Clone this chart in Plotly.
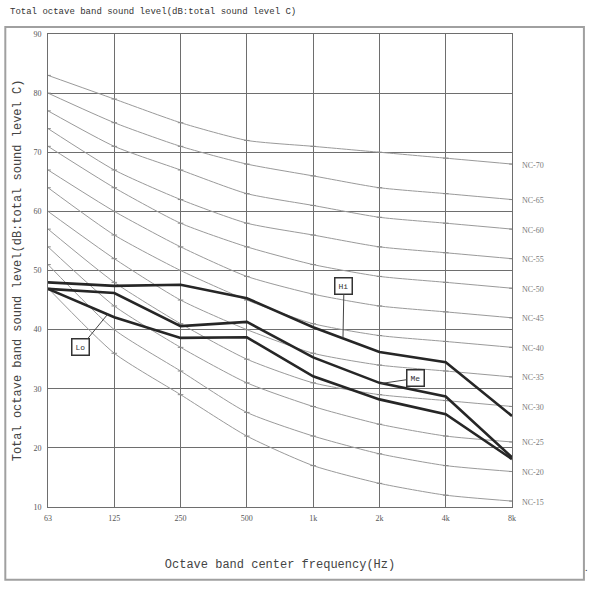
import plotly.graph_objects as go

FREQ_LABELS = ["63", "125", "250", "500", "1k", "2k", "4k", "8k"]
NC_NAMES = ["NC-15", "NC-20", "NC-25", "NC-30", "NC-35", "NC-40",
            "NC-45", "NC-50", "NC-55", "NC-60", "NC-65", "NC-70"]
NC_VALUES = [
    [47, 36, 29, 22, 17, 14, 12, 11],
    [51, 40, 33, 26, 22, 19, 17, 16],
    [54, 44, 37, 31, 27, 24, 22, 21],
    [57, 48, 41, 35, 31, 29, 28, 27],
    [60, 52, 45, 40, 36, 34, 33, 32],
    [64, 56, 50, 45, 41, 39, 38, 37],
    [67, 60, 54, 49, 46, 44, 43, 42],
    [71, 64, 58, 54, 51, 49, 48, 47],
    [74, 67, 62, 58, 56, 54, 53, 52],
    [77, 71, 67, 63, 61, 59, 58, 57],
    [80, 75, 71, 68, 66, 64, 63, 62],
    [83, 79, 75, 72, 71, 70, 69, 68],
]
HI_LEVELS = [48.0, 47.4, 47.6, 45.3, 40.4, 36.2, 34.5, 25.4]
ME_LEVELS = [46.9, 46.2, 40.6, 41.3, 35.3, 31.0, 28.7, 18.4]
LO_LEVELS = [46.9, 42.1, 38.6, 38.7, 32.1, 28.2, 25.7, 18.1]
Y_TICKS = [10, 20, 30, 40, 50, 60, 70, 80, 90]

NC_COLOR = "#9a9a9a"
GRID_COLOR = "#6e6e6e"
LINE_COLOR = "#262626"
TEXT_COLOR = "#555555"
MONO = "Liberation Mono"
SERIF = "Liberation Serif"

x_pos = list(range(len(FREQ_LABELS)))

fig = go.Figure()

for name, values in zip(NC_NAMES, NC_VALUES):
    fig.add_trace(
        go.Scatter(
            x=x_pos,
            y=values,
            name=name,
            mode="lines+markers",
            line=dict(color=NC_COLOR, width=1, shape="spline", smoothing=0.6),
            marker=dict(symbol="line-ew", size=4, line=dict(color="#8a8a8a", width=1)),
            showlegend=False,
            hoverinfo="skip",
        )
    )

for name, values in [("Hi", HI_LEVELS), ("Me", ME_LEVELS), ("Lo", LO_LEVELS)]:
    fig.add_trace(
        go.Scatter(
            x=x_pos,
            y=values,
            name=name,
            mode="lines",
            line=dict(color=LINE_COLOR, width=2.6),
            showlegend=False,
        )
    )

# NC labels on the right side, at the 8k value of each curve
for name, values in zip(NC_NAMES, NC_VALUES):
    fig.add_annotation(
        x=x_pos[-1], y=values[-1], text=name, showarrow=False,
        xanchor="left", xshift=8, yshift=-1,
        font=dict(family=SERIF, size=8, color="#7a7a7a"),
    )

# labelled boxes with leader lines
box_labels = [
    ("Hi", 4.45, 38.6, 1, -52),
    ("Me", 5.03, 30.9, 34, -5),
    ("Lo", 0.9, 42.6, -27, 33),
]
for text, x, y, ax, ay in box_labels:
    fig.add_annotation(
        x=x, y=y, text=text, showarrow=True, arrowhead=0,
        arrowwidth=1, arrowcolor="#444444", ax=ax, ay=ay,
        bordercolor="#333333", borderwidth=1.5, borderpad=3,
        bgcolor="white",
        font=dict(family=MONO, size=8, color="#333333"),
    )

# page title
fig.add_annotation(
    xref="paper", yref="paper", x=-0.087, y=1.0465,
    text="Total octave band sound level(dB:total sound level C)",
    showarrow=False, xanchor="left", yanchor="middle",
    font=dict(family=MONO, size=9, color="#333333"),
)
fig.add_annotation(
    xref="paper", yref="paper", x=1.16, y=-0.144,
    text=".", showarrow=False, xanchor="center",
    font=dict(size=10, color="#333333"),
)

# outer frame
fig.add_shape(
    type="rect", xref="paper", yref="paper",
    x0=-0.092, x1=1.155, y0=-0.154, y1=1.015,
    line=dict(color="#a0a0a0", width=2),
)

fig.update_layout(
    width=590,
    height=599,
    margin=dict(l=48, r=78, t=34, b=92),
    paper_bgcolor="white",
    plot_bgcolor="white",
    font=dict(family=SERIF, color=TEXT_COLOR),
)
fig.update_xaxes(
    range=[0, 7],
    tickvals=x_pos,
    ticktext=FREQ_LABELS,
    showgrid=True,
    gridcolor=GRID_COLOR,
    gridwidth=1,
    showline=True,
    linecolor=GRID_COLOR,
    mirror=True,
    zeroline=False,
    automargin=False,
    ticklabelstandoff=3,
    tickfont=dict(family=SERIF, size=8, color=TEXT_COLOR),
    title=dict(
        text="Octave band center frequency(Hz)",
        font=dict(family=MONO, size=12, color="#444444"),
        standoff=38,
    ),
)
fig.update_yaxes(
    range=[10, 90],
    tickvals=Y_TICKS,
    showgrid=True,
    gridcolor=GRID_COLOR,
    gridwidth=1,
    showline=True,
    linecolor=GRID_COLOR,
    mirror=True,
    zeroline=False,
    automargin=False,
    ticks="",
    ticklabelstandoff=4,
    tickfont=dict(family=SERIF, size=8, color=TEXT_COLOR),
    title=dict(
        text="Total octave band sound level(dB:total sound level C)",
        font=dict(family=MONO, size=12, color="#444444"),
        standoff=9,
    ),
)

# the page body has a default 8px margin; drop it so the figure sits at 0,0
fig.write_html(
    "out.html",
    config={"displayModeBar": False},
    post_script="document.body.style.margin = '0';",
)
